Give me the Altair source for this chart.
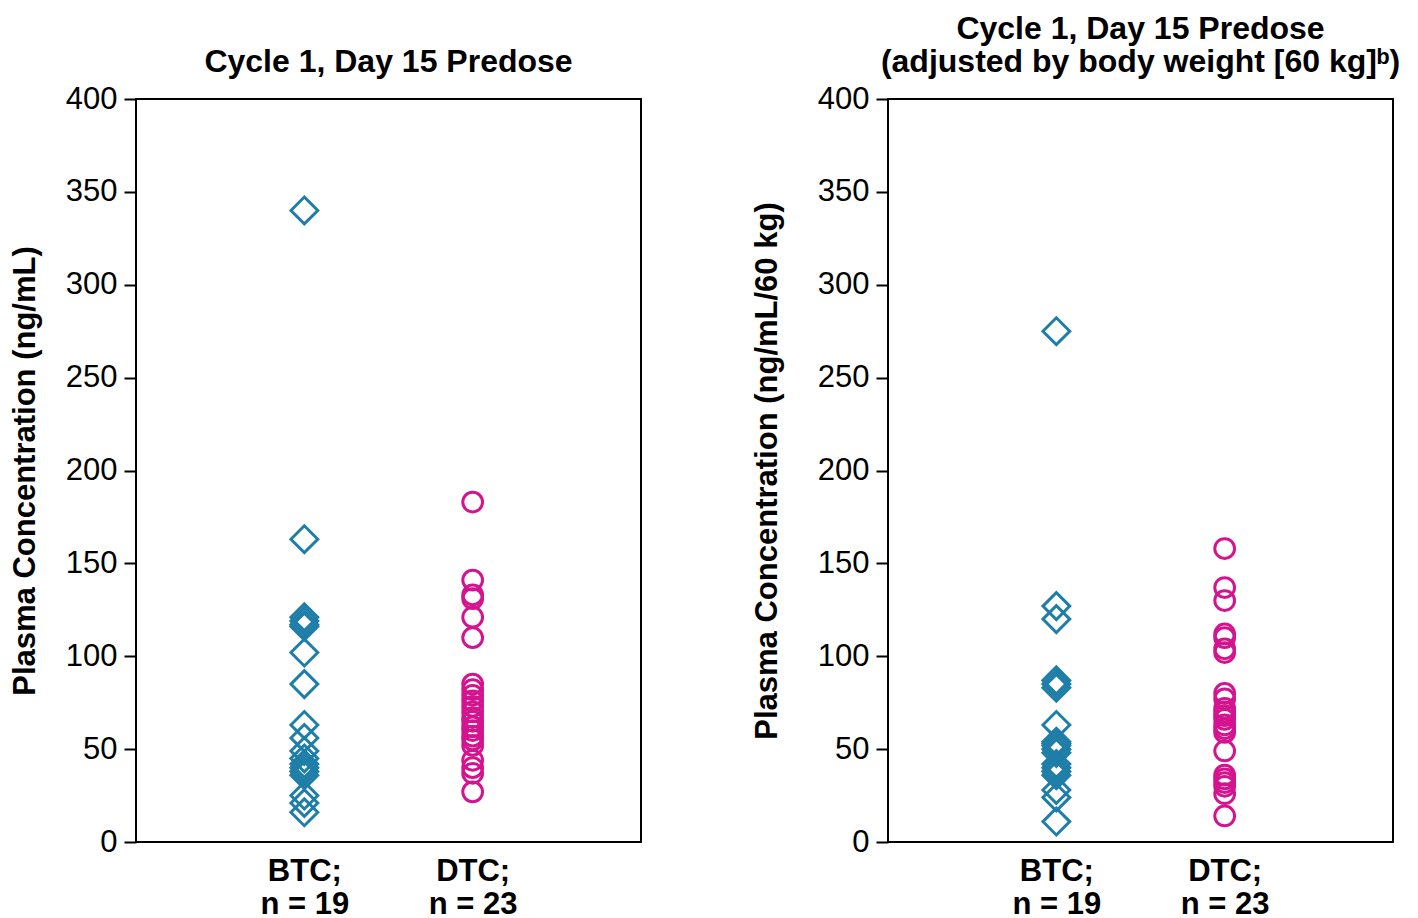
import altair as alt
import pandas as pd

groups = ["BTC;|n = 19", "DTC;|n = 23"]

left_btc = [340, 163, 121, 119, 117, 116, 102, 85, 63, 56, 49, 45, 42, 40, 38, 36, 25, 21, 16]
left_dtc = [183, 141, 133, 131, 121, 110, 85, 82, 79, 76, 73, 70, 67, 65, 62, 60, 57, 55, 52, 44, 40, 37, 27]
right_btc = [275, 127, 120, 87, 85, 83, 63, 54, 53, 52, 50, 48, 42, 40, 38, 36, 28, 24, 11]
right_dtc = [158, 137, 130, 112, 110, 104, 102, 80, 77, 72, 70, 68, 66, 63, 61, 59, 49, 36, 34, 32, 30, 26, 14]

y_ticks = [0, 50, 100, 150, 200, 250, 300, 350, 400]
colors = ["#1f7ea8", "#d4148f"]
shapes = ["diamond", "circle"]

FONT = "Liberation Sans"


def make_df(btc, dtc):
    return pd.DataFrame({
        "group": [groups[0]] * len(btc) + [groups[1]] * len(dtc),
        "value": btc + dtc,
    })


def panel(df, title, ytitle, title_pad):
    return alt.Chart(df, title=alt.Title(
        text=title, font=FONT, fontSize=32, fontWeight="bold", color="black",
        anchor="middle", offset=4, lineHeight=33,
    )).mark_point(filled=False, strokeWidth=3, opacity=1).encode(
        x=alt.X("group:N", scale=alt.Scale(type="point", padding=1, domain=groups),
                axis=alt.Axis(title=None, labelExpr="split(datum.label, '|')", labelAngle=0,
                              labelFont=FONT, labelFontSize=31, labelFontWeight="bold",
                              labelColor="black", labelLineHeight=33, labelPadding=14,
                              ticks=False, domain=False, grid=False)),
        y=alt.Y("value:Q", scale=alt.Scale(domain=[0, 400], nice=False),
                axis=alt.Axis(title=ytitle, values=y_ticks, grid=False, domain=False,
                              tickSize=12, tickWidth=2, tickColor="black",
                              labelFont=FONT, labelFontSize=31, labelColor="black",
                              labelPadding=7, titleFont=FONT, titleFontSize=31,
                              titleFontWeight="bold", titleColor="black",
                              titlePadding=title_pad)),
        shape=alt.Shape("group:N", scale=alt.Scale(domain=groups, range=shapes), legend=None),
        color=alt.Color("group:N", scale=alt.Scale(domain=groups, range=colors), legend=None),
        size=alt.Size("group:N", scale=alt.Scale(domain=groups, range=[720, 390]), legend=None),
    ).properties(width=505, height=743)


left = panel(make_df(left_btc, left_dtc), [" ", "Cycle 1, Day 15 Predose"],
             "Plasma Concentration (ng/mL)", 24)
right = panel(make_df(right_btc, right_dtc),
              ["Cycle 1, Day 15 Predose", "(adjusted by body weight [60 kg]ᵇ)"],
              "Plasma Concentration (ng/mL/60 kg)", 34)

chart = alt.hconcat(left, right, spacing=108).properties(
    padding={"top": 4, "left": 0, "right": 0, "bottom": 0}
).configure(background="white").configure_view(stroke="black", strokeWidth=2)

chart.save("out.html", embed_options={"renderer": "svg", "actions": False})
